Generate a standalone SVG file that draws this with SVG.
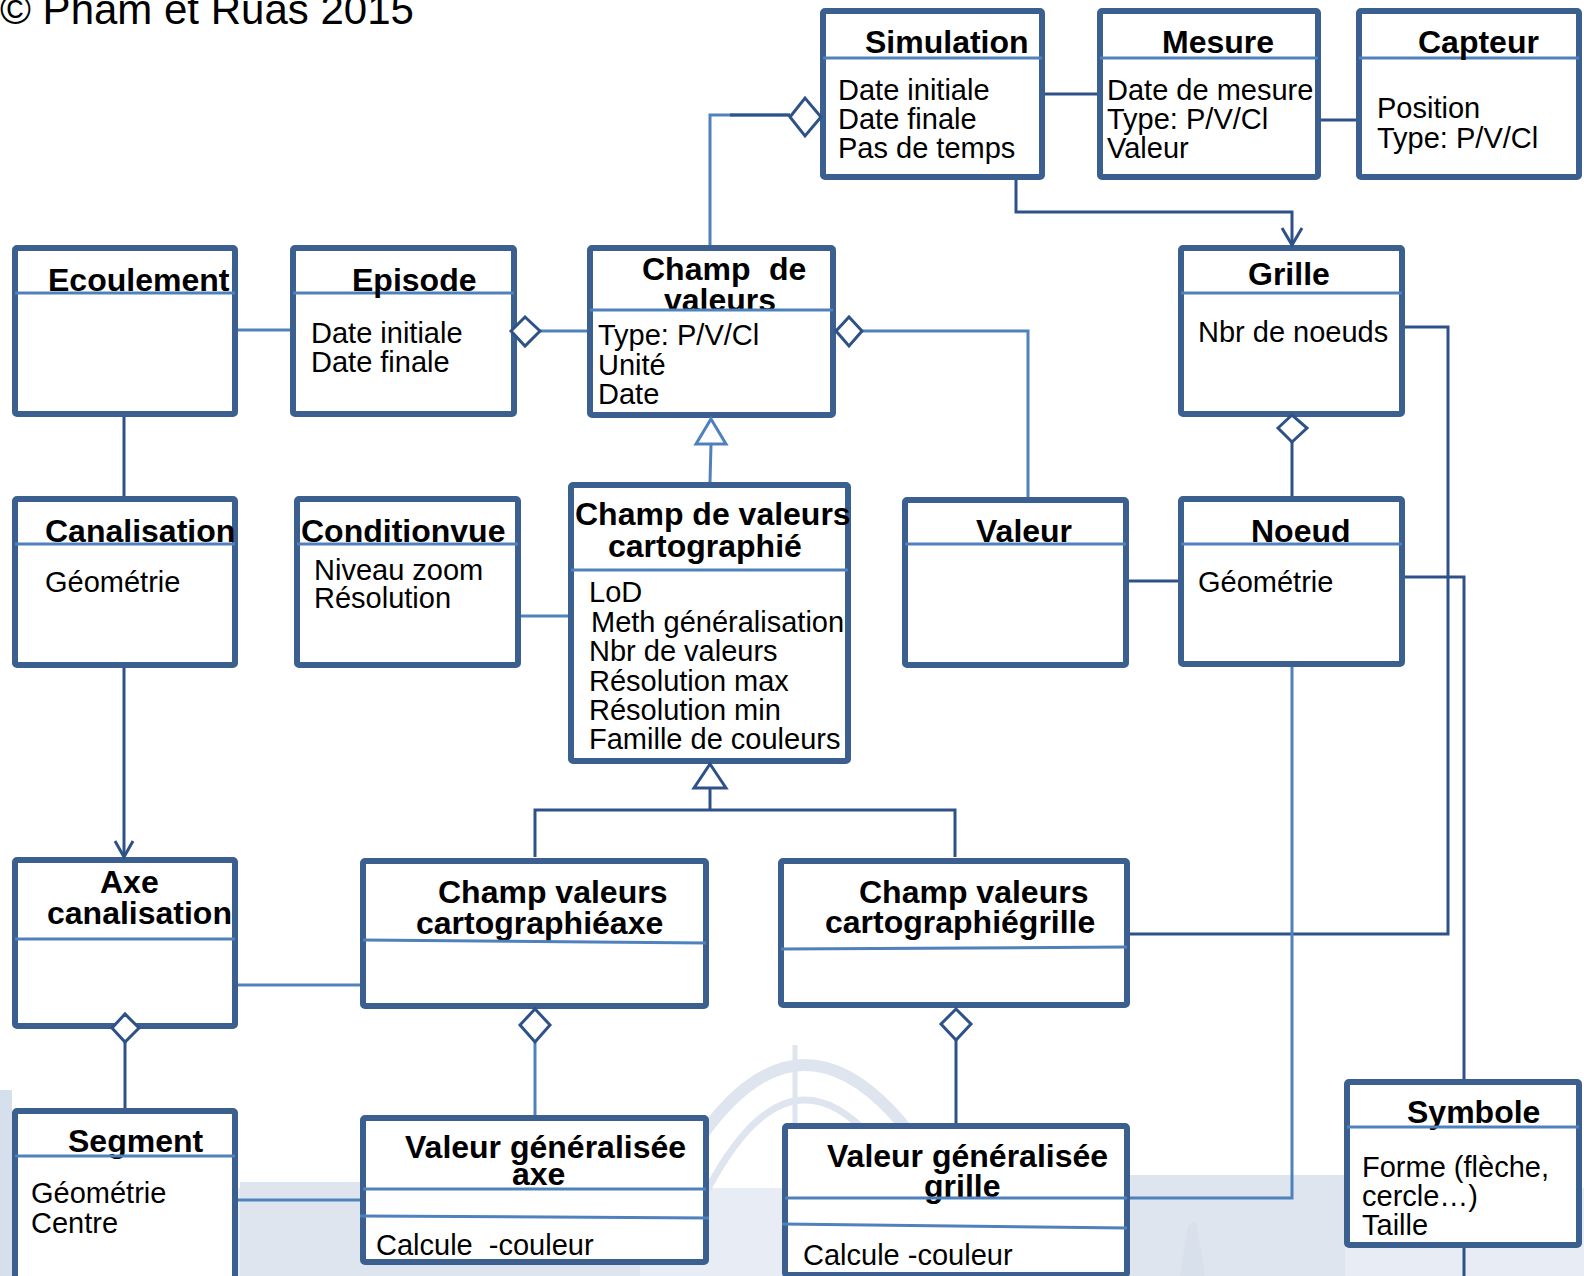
<svg xmlns="http://www.w3.org/2000/svg" width="1584" height="1276" viewBox="0 0 1584 1276">
  <style>
    text { font-family: "Liberation Sans", Arial, sans-serif; fill: #000; }
    .t { font-size: 32px; font-weight: bold; }
    .b { font-size: 29px; }
    .box { fill: #fff; stroke: #3B5F8E; stroke-width: 6; }
    .sep { stroke: #4F81BD; stroke-width: 3; fill: none; }
    .dk { stroke: #2E5288; stroke-width: 3; fill: none; }
    .lt { stroke: #4F81BD; stroke-width: 3; fill: none; }
    .dia { fill: #fff; stroke: #2E5288; stroke-width: 3; }
    .tri { fill: #fff; stroke-width: 3; }
    .wm { fill: none; stroke: #DEE5EF; }
  </style>

  <rect width="1584" height="1276" fill="#fff"/>

  <!-- faint backdrop picture in the lower part -->
  <g id="backdrop">
    <rect x="0" y="1188" width="1584" height="88" fill="#E8EDF5"/>
    <rect x="0" y="1090" width="12" height="186" fill="#D6DFEC"/>
    <rect x="240" y="1182" width="400" height="94" fill="#DEE5EF"/>
    <rect x="1120" y="1175" width="225" height="101" fill="#DEE5EF"/>
    <path class="wm" stroke-width="12" d="M640,1250 Q800,880 980,1250"/>
    <path class="wm" stroke-width="7" d="M680,1250 Q800,950 940,1250"/>
    <line class="wm" stroke-width="5" x1="795" y1="1045" x2="795" y2="1190"/>
    <path fill="#D8E0EC" d="M1180,1276 L1188,1225 L1196,1222 L1205,1276 Z"/>
  </g>

  <text x="0" y="24" font-size="42">© Pham et Ruas 2015</text>

  <g id="nodes">
    <g id="simulation">
      <rect class="box" x="823" y="11" width="219" height="166" rx="2"/>
      <line class="sep" x1="823" y1="58" x2="1042" y2="58"/>
      <text class="t" x="865" y="53">Simulation</text>
      <text class="b" x="838" y="100">Date initiale</text>
      <text class="b" x="838" y="129">Date finale</text>
      <text class="b" x="838" y="158">Pas de temps</text>
    </g>
    <g id="mesure">
      <rect class="box" x="1100" y="11" width="218" height="166" rx="2"/>
      <line class="sep" x1="1100" y1="58" x2="1318" y2="58"/>
      <text class="t" x="1162" y="53">Mesure</text>
      <text class="b" x="1107" y="100">Date de mesure</text>
      <text class="b" x="1107" y="129">Type: P/V/Cl</text>
      <text class="b" x="1107" y="158">Valeur</text>
    </g>
    <g id="capteur">
      <rect class="box" x="1359" y="11" width="220" height="166" rx="2"/>
      <line class="sep" x1="1359" y1="58" x2="1579" y2="58"/>
      <text class="t" x="1418" y="53">Capteur</text>
      <text class="b" x="1377" y="118">Position</text>
      <text class="b" x="1377" y="148">Type: P/V/Cl</text>
    </g>
    <g id="ecoulement">
      <rect class="box" x="15" y="248" width="220" height="166" rx="2"/>
      <line class="sep" x1="15" y1="293" x2="235" y2="293"/>
      <text class="t" x="48" y="291">Ecoulement</text>
    </g>
    <g id="episode">
      <rect class="box" x="293" y="248" width="221" height="166" rx="2"/>
      <line class="sep" x1="293" y1="293" x2="514" y2="293"/>
      <text class="t" x="352" y="291">Episode</text>
      <text class="b" x="311" y="343">Date initiale</text>
      <text class="b" x="311" y="372">Date finale</text>
    </g>
    <g id="champ-de-valeurs">
      <rect class="box" x="590" y="248" width="243" height="167" rx="2"/>
      <text class="t" y="280"><tspan x="642">Champ</tspan><tspan x="769">de</tspan></text>
      <text class="t" x="664" y="311">valeurs</text>
      <line class="sep" x1="590" y1="310" x2="833" y2="310"/>
      <text class="b" x="598" y="345">Type: P/V/Cl</text>
      <text class="b" x="598" y="375">Unité</text>
      <text class="b" x="598" y="404">Date</text>
    </g>
    <g id="grille">
      <rect class="box" x="1181" y="248" width="221" height="166" rx="2"/>
      <line class="sep" x1="1181" y1="293" x2="1402" y2="293"/>
      <text class="t" x="1248" y="285">Grille</text>
      <text class="b" x="1198" y="342">Nbr de noeuds</text>
    </g>
    <g id="canalisation">
      <rect class="box" x="15" y="499" width="220" height="166" rx="2"/>
      <text class="t" x="45" y="542">Canalisation</text>
      <line class="sep" x1="15" y1="544" x2="235" y2="544"/>
      <text class="b" x="45" y="592">Géométrie</text>
    </g>
    <g id="conditionvue">
      <rect class="box" x="297" y="499" width="221" height="166" rx="2"/>
      <text class="t" x="301" y="542">Conditionvue</text>
      <line class="sep" x1="297" y1="544" x2="518" y2="544"/>
      <text class="b" x="314" y="580">Niveau zoom</text>
      <text class="b" x="314" y="608">Résolution</text>
    </g>
    <g id="champ-cartographie">
      <rect class="box" x="571" y="485" width="277" height="276" rx="2"/>
      <text class="t" x="575" y="525">Champ de valeurs</text>
      <text class="t" x="608" y="557">cartographié</text>
      <line class="sep" x1="571" y1="570" x2="848" y2="570"/>
      <text class="b" x="589" y="602">LoD</text>
      <text class="b" x="591" y="632">Meth généralisation</text>
      <text class="b" x="589" y="661">Nbr de valeurs</text>
      <text class="b" x="589" y="691">Résolution max</text>
      <text class="b" x="589" y="720">Résolution min</text>
      <text class="b" x="589" y="749">Famille de couleurs</text>
    </g>
    <g id="valeur">
      <rect class="box" x="905" y="500" width="221" height="165" rx="2"/>
      <line class="sep" x1="905" y1="544" x2="1126" y2="544"/>
      <text class="t" x="976" y="542">Valeur</text>
    </g>
    <g id="noeud">
      <rect class="box" x="1181" y="499" width="221" height="165" rx="2"/>
      <text class="t" x="1251" y="542">Noeud</text>
      <line class="sep" x1="1181" y1="544" x2="1402" y2="544"/>
      <text class="b" x="1198" y="592">Géométrie</text>
    </g>
    <g id="axe-canalisation">
      <rect class="box" x="15" y="860" width="220" height="166" rx="2"/>
      <text class="t" x="100" y="893">Axe</text>
      <text class="t" x="47" y="924">canalisation</text>
      <line class="sep" x1="15" y1="939" x2="235" y2="939"/>
    </g>
    <g id="champ-axe">
      <rect class="box" x="363" y="861" width="343" height="145" rx="2"/>
      <text class="t" x="438" y="903">Champ valeurs</text>
      <text class="t" x="416" y="934">cartographiéaxe</text>
      <line class="sep" x1="363" y1="940" x2="706" y2="943"/>
    </g>
    <g id="champ-grille">
      <rect class="box" x="781" y="861" width="346" height="144" rx="2"/>
      <text class="t" x="859" y="903">Champ valeurs</text>
      <text class="t" x="825" y="933">cartographiégrille</text>
      <line class="sep" x1="781" y1="949" x2="1127" y2="947"/>
    </g>
    <g id="segment">
      <rect class="box" x="15" y="1111" width="220" height="181" rx="2"/>
      <text class="t" x="68" y="1152">Segment</text>
      <line class="sep" x1="15" y1="1156" x2="235" y2="1156"/>
      <text class="b" x="31" y="1203">Géométrie</text>
      <text class="b" x="31" y="1233">Centre</text>
    </g>
    <g id="valeur-generalisee-axe">
      <rect class="box" x="363" y="1118" width="343" height="144" rx="2"/>
      <text class="t" x="405" y="1158">Valeur généralisée</text>
      <text class="t" x="512" y="1185">axe</text>
      <line class="sep" x1="363" y1="1189" x2="706" y2="1189"/>
      <line class="sep" x1="360" y1="1216" x2="709" y2="1218"/>
      <text class="b" x="376" y="1255" xml:space="preserve">Calcule  -couleur</text>
    </g>
    <g id="valeur-generalisee-grille">
      <rect class="box" x="785" y="1126" width="342" height="149" rx="2"/>
      <text class="t" x="827" y="1167">Valeur généralisée</text>
      <text class="t" x="924" y="1197">grille</text>
      <line class="sep" x1="785" y1="1198" x2="1127" y2="1198"/>
      <line class="sep" x1="782" y1="1224" x2="1127" y2="1228"/>
      <text class="b" x="803" y="1265">Calcule -couleur</text>
    </g>
    <g id="symbole">
      <rect class="box" x="1347" y="1082" width="232" height="163" rx="2"/>
      <text class="t" x="1407" y="1123">Symbole</text>
      <line class="sep" x1="1347" y1="1127" x2="1579" y2="1127"/>
      <text class="b" x="1362" y="1177">Forme (flèche,</text>
      <text class="b" x="1362" y="1206">cercle…)</text>
      <text class="b" x="1362" y="1235">Taille</text>
    </g>
  </g>

  <g id="connectors">
    <!-- plain associations -->
    <path class="dk" d="M1045,94 H1097"/>
    <path class="dk" d="M1321,120 H1356"/>
    <path class="lt" d="M238,330 H290"/>
    <path class="dk" d="M124,417 V496"/>
    <path class="lt" d="M521,616 H568"/>
    <path class="dk" d="M1129,581 H1178"/>
    <path class="dk" d="M1405,327 H1448 V934 H1130"/>
    <path class="dk" d="M1405,577 H1464 V1079"/>
    <path class="dk" d="M1464,1248 V1276"/>
    <path class="lt" d="M1292,667 V1198 H1130"/>
    <path class="lt" d="M238,985 H360"/>
    <path class="lt" d="M238,1200 H360"/>

    <!-- navigable associations -->
    <path class="dk" d="M1016,180 V212 H1292 V243"/>
    <path class="dk" d="M1282,228 L1292,245 L1302,228"/>
    <path class="dk" d="M124,668 V855"/>
    <path class="dk" d="M115,841 L124,857 L133,841"/>

    <!-- aggregations -->
    <path class="lt" d="M710,245 V115 H790"/>
    <path class="dk" d="M730,115 H790"/>
    <polygon class="dia" points="790,117 805,98 821,117 805,136"/>

    <path class="lt" d="M540,331 H587"/>
    <polygon class="dia" points="511,331 525,317 540,331 525,346"/>

    <path class="lt" d="M862,331 H1028 V497"/>
    <polygon class="dia" points="836,331 849,317 862,331 849,346"/>

    <path class="dk" d="M1292,442 V496"/>
    <polygon class="dia" points="1278,428 1292,415 1307,428 1292,442"/>

    <path class="dk" d="M125,1042 V1108"/>
    <polygon class="dia" points="112,1028 125,1014 139,1028 125,1042"/>

    <path class="lt" d="M535,1042 V1115"/>
    <polygon class="dia" points="520,1025 535,1009 550,1025 535,1042"/>

    <path class="dk" d="M956,1040 V1123"/>
    <polygon class="dia" points="941,1024 956,1009 971,1024 956,1040"/>

    <!-- generalisations -->
    <path class="lt" d="M711,444 L710,482"/>
    <polygon class="tri" stroke="#4F81BD" points="711,419 726,444 696,444"/>

    <path class="dk" d="M710,788 V810"/>
    <path class="dk" d="M535,857 V810 H955 V857"/>
    <polygon class="tri" stroke="#2E5288" points="710,764 726,788 694,788"/>
  </g>
</svg>
